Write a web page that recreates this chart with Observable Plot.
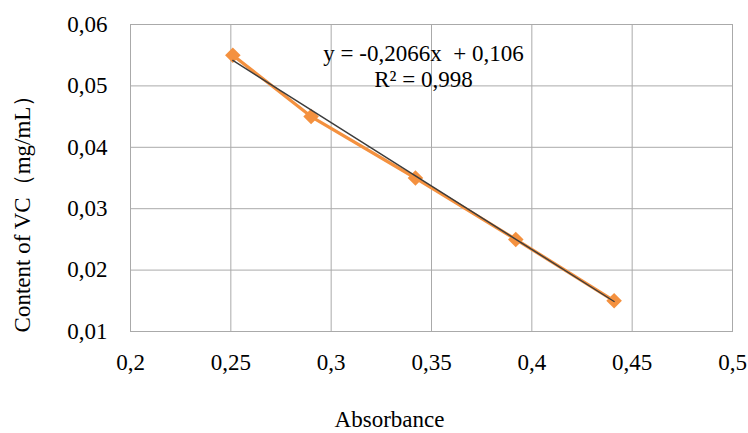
<!DOCTYPE html>
<html>
<head>
<meta charset="utf-8">
<script src="https://cdn.jsdelivr.net/npm/d3@7"></script>
<script src="https://cdn.jsdelivr.net/npm/@observablehq/plot@0.6"></script>
<style>
  html, body { margin: 0; padding: 0; background: #fff; }
  #chart svg { display: block; }
</style>
</head>
<body>
<div id="chart"></div>
<script>
// Data
const absorbance = [0.251, 0.290, 0.342, 0.392, 0.441];
const content = [0.055, 0.045, 0.035, 0.025, 0.015];
const xTicks = [0.2, 0.25, 0.3, 0.35, 0.4, 0.45, 0.5];
const yTicks = [0.01, 0.02, 0.03, 0.04, 0.05, 0.06];
const trendSlope = -0.2066;
const trendIntercept = 0.106;
const equationText = "y = -0,2066x\u00a0 + 0,106\nR² = 0,998";
const xLabel = "Absorbance";
const yLabel = "Content of VC（mg/mL）";

const points = absorbance.map((x, i) => ({x, y: content[i]}));
const xExt = d3.extent(absorbance);
const trend = xExt.map(x => ({x, y: trendSlope * x + trendIntercept}));
const fmt = d => String(+d.toFixed(4)).replace(".", ",");

const font = "'Liberation Serif', 'Times New Roman', serif";
const orange = "#F4913F";

const chart = Plot.plot({
  width: 748,
  height: 433,
  marginLeft: 130,
  marginRight: 16,
  marginTop: 24,
  marginBottom: 102,
  style: {fontFamily: font, fontSize: "23px", color: "#000", background: "#fff", overflow: "visible"},
  x: {domain: [0.2, 0.5], ticks: xTicks, tickFormat: fmt, label: null},
  y: {domain: [0.01, 0.06], ticks: yTicks, tickFormat: fmt, label: null},
  marks: [
    Plot.gridX(xTicks, {stroke: "#aaaaaa", strokeOpacity: 1, strokeWidth: 1}),
    Plot.gridY(yTicks, {stroke: "#aaaaaa", strokeOpacity: 1, strokeWidth: 1}),
    Plot.frame({stroke: "#aaaaaa", strokeWidth: 1}),
    Plot.axisX(xTicks, {tickSize: 0, tickPadding: 22, tickFormat: fmt, fontSize: 23, label: null}),
    Plot.axisY(yTicks, {tickSize: 0, tickPadding: 23, tickFormat: fmt, fontSize: 23, label: null}),
    Plot.line(points, {x: "x", y: "y", stroke: orange, strokeWidth: 3.2}),
    Plot.dot(points, {x: "x", y: "y", symbol: "diamond2", r: 7, fill: orange, stroke: null}),
    Plot.line(trend, {x: "x", y: "y", stroke: "#3c3c3c", strokeWidth: 1.4}),
    Plot.text([equationText], {frameAnchor: "top-left", dx: 293, dy: 18, lineAnchor: "top", textAnchor: "middle", lineHeight: 1.13, fontSize: 23, fill: "#000"}),
    Plot.text([xLabel], {frameAnchor: "bottom", dx: -42, dy: 79, lineAnchor: "top", fontSize: 23, fill: "#000"}),
    Plot.text([yLabel], {frameAnchor: "left", rotate: -90, dx: -108, dy: 30, lineAnchor: "middle", textAnchor: "middle", fontSize: 23, fill: "#000"})
  ]
});
document.getElementById("chart").appendChild(chart);
</script>
</body>
</html>
